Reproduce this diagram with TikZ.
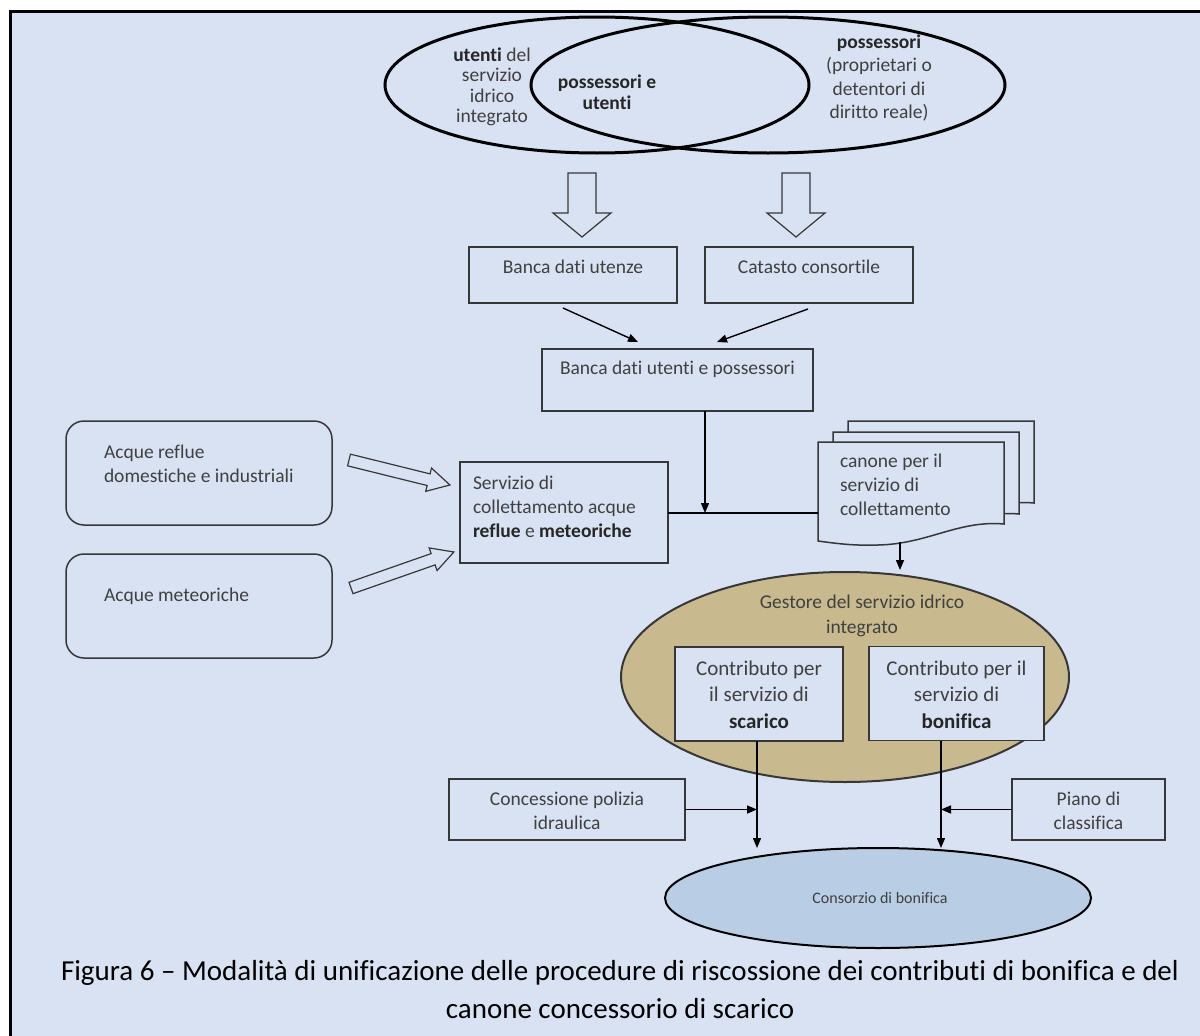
\documentclass[tikz,border=0pt]{standalone}
\usepackage{fontspec}
\setmainfont{Carlito}[Ligatures=CommonOff]
\usetikzlibrary{shapes.geometric,arrows.meta,calc}
\definecolor{bg}{RGB}{217,226,243}
\definecolor{tanfill}{RGB}{200,186,142}
\definecolor{consfill}{RGB}{185,205,229}
\definecolor{txt}{RGB}{64,64,64}
\definecolor{edge}{RGB}{55,55,55}
\newcommand\mainfs{\fontsize{19.5pt}{24pt}\selectfont}
\newcommand\vennfs{\fontsize{19.5pt}{20.5pt}\selectfont}
\newcommand\possfs{\fontsize{19.5pt}{23.5pt}\selectfont}
\newcommand\contfs{\fontsize{21pt}{26.5pt}\selectfont}
\newcommand\consfs{\fontsize{16pt}{19pt}\selectfont}
\newcommand\capfs{\fontsize{29pt}{38pt}\selectfont}
\newcommand\bd[1]{\textbf{\color{black!85}#1}}
\begin{document}
\begin{tikzpicture}[x=1pt,y=-1pt,
  every node/.style={inner sep=0pt, outer sep=0pt, text=txt, font=\mainfs},
  box/.style={draw=edge, line width=1.5pt, fill=bg},
  rbox/.style={box, rounded corners=18pt},
  venn/.style={ellipse, draw=black, line width=3pt},
  conn/.style={draw=black, line width=1.4pt, -{Triangle[length=10pt,width=8pt]}},
  plain/.style={draw=black, line width=1.4pt},
  hollow/.style={draw=edge, line width=1.2pt, fill=bg, line join=miter},
  docst/.style={draw=edge, line width=1.5pt, fill=bg},
  docshape/.pic={\path[docst] (0,0) -- (186,0) -- (186,82) .. controls (140,78) and (110,102) .. (60,103) .. controls (35,104) and (15,101) .. (0,99) -- cycle;}
]
\useasboundingbox (0,0) rectangle (1200,1036);
\fill[white] (0,0) rectangle (1200,1036);
\fill[bg] (10,11) rectangle (1200,1036);
\draw[line width=3pt] (10,1036) -- (10,11) -- (1200,11);

% Venn ellipses
\node[venn, minimum width=424pt, minimum height=136pt] (vu) at (597,85) {};
\node[venn, minimum width=474pt, minimum height=136pt] (vp) at (768,85) {};
\node[align=center, font=\vennfs] (tu) at (492,87) {\bd{utenti} del\\servizio\\idrico\\integrato};
\node[align=center, font=\vennfs] (tpu) at (607,92) {\bd{possessori e}\\\bd{utenti}};
\node[align=center, font=\possfs] (tp) at (879,78) {\bd{possessori}\\(proprietari o\\detentori di\\diritto reale)};

% hollow down arrows
\foreach \cx in {582,796}{
  \draw[hollow] ({\cx-14},173) -- ({\cx-14},213) -- ({\cx-29},213) -- (\cx,237) -- ({\cx+29},213) -- ({\cx+14},213) -- ({\cx+14},173) -- cycle;
}

% first row boxes
\node[box, minimum width=208pt, minimum height=56pt] (bdu) at (573,275) {};
\node (bdut) at (573,267) {Banca dati utenze};
\node[box, minimum width=208pt, minimum height=56pt] (cat) at (809,275) {};
\node (catt) at (809,267) {Catasto consortile};

\node[box, minimum width=271pt, minimum height=62pt] (bup) at (677.5,380) {};
\node (bupt) at (677.5,369) {Banca dati utenti e possessori};

\draw[conn] ([xshift=-10pt,yshift=-5pt]bdu.south) -- ([xshift=-39.5pt,yshift=7pt]bup.north);
\draw[conn] ([xshift=-1pt,yshift=-6pt]cat.south) -- ([xshift=39.5pt,yshift=7pt]bup.north);

% left rounded boxes
\node[rbox, minimum width=266pt, minimum height=104pt] (ar) at (199,473) {};
\node[anchor=west, align=left] (art) at (104,463.5) {Acque reflue\\domestiche e industriali};
\node[rbox, minimum width=266pt, minimum height=104pt] (am) at (199,606) {};
\node[anchor=west] (amt) at (104,596) {Acque meteoriche};

% servizio box
\node[box, minimum width=208pt, minimum height=101pt] (serv) at (564,512.5) {};
\node[anchor=west, align=left] (servt) at (473,507) {Servizio di\\collettamento acque\\\bd{reflue} e \bd{meteoriche}};

% hollow slanted arrows
\begin{scope}[shift={(349,460)}, rotate=-13.9]
  \draw[hollow] (0,-6) -- (82,-6) -- (82,-12) -- (104,0) -- (82,12) -- (82,6) -- (0,6) -- cycle;
\end{scope}
\begin{scope}[shift={(351,588)}, rotate=19.3]
  \draw[hollow] (0,-6) -- (87,-6) -- (87,-12) -- (109,0) -- (87,12) -- (87,6) -- (0,6) -- cycle;
\end{scope}

% document stack
\node[minimum width=186pt, minimum height=100pt] (doc) at (911,492) {};
\pic at (848,421) {docshape};
\pic at (833,432) {docshape};
\pic at (818,442) {docshape};
\node[anchor=west, align=left] (doct) at (840,485) {canone per il\\servizio di\\collettamento};

\coordinate (j) at (705,513);
\draw[conn] (bup.south -| j) -- (j);
\draw[plain] (serv.east |- j) -- (doc.west |- j);

% gestore
\node[ellipse, draw=edge, line width=2pt, fill=tanfill, minimum width=448pt, minimum height=210pt] (gest) at (845,677) {};
\node[align=center, font=\fontsize{19.5pt}{25pt}\selectfont] (gt) at (862,615.5) {Gestore del servizio idrico\\integrato};
\coordinate (db) at ([xshift=-11pt]doc.south);
\draw[conn, shorten >=2pt] (db) -- (db |- gest.north);

\node[box, minimum width=168pt, minimum height=94pt] (c1) at (759,694) {};
\node[align=center, font=\contfs] (c1t) at (759,694.5) {Contributo per\\il servizio di\\\bd{scarico}};
\node[box, minimum width=175pt, minimum height=94pt] (c2) at (956.5,693.5) {};
\node[align=center, font=\contfs] (c2t) at (956.5,694.5) {Contributo per il\\servizio di\\\bd{bonifica}};

% side boxes
\node[box, minimum width=236pt, minimum height=61pt] (conc) at (567,809.5) {};
\node[align=center] (conct) at (567,810.5) {Concessione polizia\\idraulica};
\node[box, minimum width=153pt, minimum height=61pt] (piano) at (1088.5,809.5) {};
\node[align=center] (pianot) at (1088.5,810.5) {Piano di\\classifica};

% consorzio
\node[ellipse, draw=black, line width=2pt, fill=consfill, minimum width=426pt, minimum height=100pt] (cons) at (878,898) {};
\node[font=\consfs] (const) at (880,898) {Consorzio di bonifica};

\coordinate (c1b) at ([xshift=-2pt]c1.south);
\coordinate (c2b) at ([xshift=-15.5pt]c2.south);
\coordinate (ctop) at (0,848);
\draw[conn] (c1b) -- (c1b |- ctop);
\draw[conn] (c2b) -- (c2b |- ctop);
\draw[conn] (conc.east) -- (conc.east -| c1b);
\draw[conn] (piano.west) -- (piano.west -| c2b);

% caption
\node[align=center, text=black, font=\capfs] (cap) at (620,990) {Figura 6 – Modalità di unificazione delle procedure di riscossione dei contributi di bonifica e del\\canone concessorio di scarico};
\end{tikzpicture}
\end{document}
